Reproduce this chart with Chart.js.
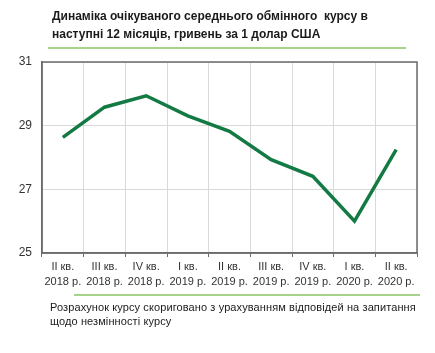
<!DOCTYPE html>
<html>
<head>
<meta charset="utf-8">
<script src="https://cdn.jsdelivr.net/npm/chart.js@4"></script>
<style>
  body { margin: 0; background: #fff; font-family: "Liberation Sans", Arial, sans-serif; }
  #wrap { position: relative; width: 435px; height: 353px; }
  #title { position: absolute; left: 52px; top: 7px; font-size: 12px; font-weight: bold; line-height: 18px; color: #1a1a1a; }
  #topRule { position: absolute; left: 48px; top: 47px; width: 358px; height: 2px; background: #a6d38a; }
  #bottomRule { position: absolute; left: 74px; top: 294px; width: 346px; height: 2px; background: #a6d38a; }
  #note { position: absolute; left: 50px; top: 300px; font-size: 11px; line-height: 14px; color: #1a1a1a; letter-spacing: 0.1px; }
  canvas { position: absolute; left: 0; top: 0; }
</style>
</head>
<body>
<div id="wrap">
  <canvas id="myChart" width="435" height="353"></canvas>
  <div id="title">Динаміка очікуваного середнього обмінного &nbsp;курсу в<br>наступні 12 місяців, гривень за 1 долар США</div>
  <div id="topRule"></div>
  <div id="bottomRule"></div>
  <div id="note">Розрахунок курсу скориговано з урахуванням відповідей на запитання<br>щодо незмінності курсу</div>
</div>
<script>
// quarters on the x axis
const quarters = ["II кв.", "III кв.", "IV кв.", "I кв.", "II кв.", "III кв.", "IV кв.", "I кв.", "II кв."];
const years = ["2018 р.", "2018 р.", "2018 р.", "2019 р.", "2019 р.", "2019 р.", "2019 р.", "2020 р.", "2020 р."];
// expected average rate, UAH per 1 USD
const rate = [28.63, 29.58, 29.94, 29.31, 28.82, 27.93, 27.41, 26.0, 28.25];
const yTicks = [25, 27, 29, 31];

const labels = quarters.map((q, i) => [q, years[i]]);

// box around the plot area (top and right sides)
const frame = {
  id: "frame",
  afterDraw(chart) {
    const { ctx, chartArea } = chart;
    ctx.save();
    ctx.strokeStyle = "#6b6b6b";
    ctx.lineWidth = 1.5;
    ctx.strokeRect(chartArea.left, chartArea.top, chartArea.right - chartArea.left, chartArea.bottom - chartArea.top);
    ctx.restore();
  },
};

const config = {
  type: "line",
  data: {
    labels,
    datasets: [
      {
        data: rate,
        borderColor: "#137a43",
        borderWidth: 3.5,
        pointRadius: 0,
        tension: 0,
        fill: false,
      },
    ],
  },
  options: {
    responsive: false,
    animation: false,
    layout: { padding: { top: 62, right: 18, left: 0, bottom: 0 } },
    plugins: { legend: { display: false }, tooltip: { enabled: false } },
    scales: {
      x: {
        offset: true,
        grid: { color: "#d9d9d9", lineWidth: 1, offset: true, drawTicks: true, tickLength: 4, tickColor: "#6b6b6b" },
        border: { display: true, color: "#6b6b6b", width: 1.5 },
        ticks: {
          color: "#333",
          font: { family: "Liberation Sans", size: 11, lineHeight: 1.35 },
          maxRotation: 0,
          autoSkip: false,
          padding: 3,
        },
        afterFit(scale) {
          scale.height = 100;
        },
      },
      y: {
        min: 25,
        max: 31,
        afterBuildTicks(scale) {
          scale.ticks = yTicks.map((v) => ({ value: v }));
        },
        grid: { color: "#d9d9d9", lineWidth: 1, drawTicks: false },
        border: { display: true, color: "#6b6b6b", width: 1.5 },
        ticks: {
          color: "#333",
          font: { family: "Liberation Sans", size: 12 },
          padding: 10,
        },
        afterFit(scale) {
          scale.width = 42;
        },
      },
    },
  },
  plugins: [frame],
};

let myChart = new Chart(document.getElementById("myChart"), config);
</script>
</body>
</html>
